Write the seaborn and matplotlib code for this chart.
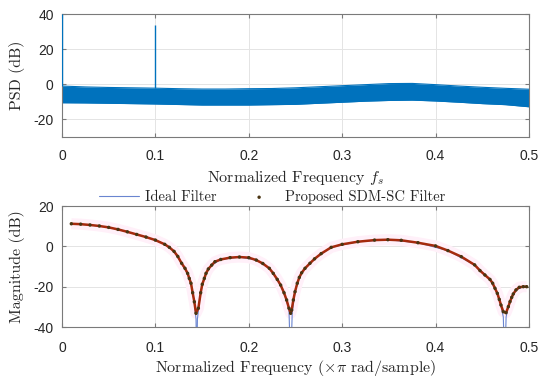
import numpy as np
import pandas as pd
import matplotlib
matplotlib.use("Agg")
import matplotlib.pyplot as plt
import seaborn as sns

# ---- data ----
xticks = [0, 0.1, 0.2, 0.3, 0.4, 0.5]
xtick_labels = ["0", "0.1", "0.2", "0.3", "0.4", "0.5"]

# top panel: noise floor envelope of the PSD
psd_freq = [0.0, 0.025, 0.05, 0.075, 0.1, 0.125, 0.15, 0.175, 0.2, 0.225, 0.25,
            0.275, 0.3, 0.325, 0.35, 0.375, 0.4, 0.425, 0.45, 0.475, 0.5]
psd_upper = [-1.0, -1.5, -1.8, -2.0, -2.2, -2.5, -2.7, -2.7, -2.5, -2.4, -2.0,
             -1.4, -0.8, -0.2, 0.4, 0.5, -0.2, -1.0, -1.7, -2.3, -2.8]
psd_lower = [-10.5, -10.6, -10.8, -11.0, -11.2, -11.5, -11.8, -11.8, -11.8, -11.6, -11.4,
             -10.8, -10.2, -9.6, -9.2, -9.0, -9.5, -10.2, -11.0, -11.6, -12.8]
# tones
tone_freq = [0.0, 0.1]
tone_peak = [40, 34]
psd_yticks = [-20, 0, 20, 40]
psd_ytick_labels = ["-20", "0", "20", "40"]

# bottom panel: proposed SDM-SC filter response
sdm_freq = [0.010, 0.020, 0.030, 0.040, 0.050, 0.060, 0.070, 0.080, 0.090, 0.100,
            0.110, 0.115, 0.120, 0.124, 0.1281, 0.1317, 0.1345, 0.1363, 0.1381, 0.1399,
            0.1417, 0.1435, 0.1460, 0.1485, 0.1502, 0.1524, 0.1542, 0.1567, 0.1603, 0.1638,
            0.170, 0.180, 0.190, 0.200, 0.208, 0.215, 0.222, 0.2262, 0.2305, 0.2341,
            0.2377, 0.2405, 0.2430, 0.2448, 0.2459, 0.2477, 0.2495, 0.2519, 0.2541, 0.2566,
            0.2602, 0.2655, 0.2704, 0.2775, 0.2882, 0.300, 0.3168, 0.3346, 0.3489, 0.3632,
            0.3811, 0.400, 0.4132, 0.4275, 0.4418, 0.4475, 0.4528, 0.4582, 0.4611, 0.4636,
            0.4661, 0.4682, 0.4700, 0.4725, 0.4754, 0.4779, 0.4797, 0.4815, 0.4832, 0.4861,
            0.4896, 0.4939, 0.4975]
sdm_mag = [11.2, 11.0, 10.6, 10.1, 9.4, 8.4, 7.2, 5.9, 4.6, 3.1,
           1.0, -0.5, -2.5, -5.0, -8.4, -10.9, -13.4, -15.9, -18.3, -23.0,
           -27.5, -33.2, -30.7, -23.0, -18.8, -15.9, -13.4, -11.2, -9.3, -7.6,
           -6.5, -5.6, -5.3, -5.6, -6.8, -8.5, -10.9, -13.4, -16.4, -19.2,
           -23.0, -26.6, -30.7, -33.2, -31.6, -26.6, -22.5, -18.3, -15.4, -13.1,
           -10.9, -8.4, -6.2, -3.6, -0.5, 1.0, 2.3, 3.1, 3.3, 3.0,
           1.8, 0.2, -2.1, -5.1, -9.2, -12.0, -14.2, -16.4, -18.3, -20.8,
           -23.3, -26.3, -29.1, -32.4, -32.9, -29.9, -27.4, -25.3, -23.6, -21.6,
           -20.3, -20.0, -20.0]

# bottom panel: ideal filter response (deep nulls)
ideal_freq = [0.010, 0.030, 0.050, 0.070, 0.090, 0.100, 0.110, 0.120, 0.1281, 0.1345,
              0.1381, 0.1399, 0.1417, 0.1435, 0.1442, 0.1450, 0.1470, 0.1502, 0.1542, 0.1603,
              0.170, 0.190, 0.208, 0.222, 0.2305, 0.2377, 0.2430, 0.2448, 0.2465, 0.2495,
              0.2541, 0.2602, 0.2704, 0.2882, 0.3168, 0.3489, 0.3811, 0.4132, 0.4418, 0.4582,
              0.4661, 0.4700, 0.4725, 0.4740, 0.4755, 0.4779, 0.4815, 0.4861, 0.4939, 0.4975]
ideal_mag = [11.2, 10.6, 9.4, 7.2, 4.6, 3.1, 1.0, -2.5, -8.4, -13.4,
             -18.3, -23.0, -28.0, -36.0, -60.0, -36.0, -28.0, -18.8, -13.4, -9.3,
             -6.5, -5.3, -6.8, -10.9, -16.4, -23.0, -31.0, -60.0, -33.0, -22.5,
             -15.4, -10.9, -6.2, -0.5, 2.3, 3.3, 1.8, -2.1, -9.2, -16.4,
             -23.3, -29.5, -35.0, -60.0, -35.0, -29.9, -25.3, -21.6, -20.0, -20.0]
mag_yticks = [-40, -20, 0, 20]
mag_ytick_labels = ["-40", "-20", "0", "20"]

# ---- style ----
sns.set_style("ticks")
plt.rcParams["font.family"] = ["Liberation Sans", "DejaVu Sans"]
plt.rcParams["mathtext.fontset"] = "cm"

spine_col = "#7a7a7a"
text_col = "#262626"
serif = "cmr10"

fig = plt.figure(figsize=(5.5, 3.84), dpi=100)
ax1 = fig.add_axes([0.1127, 0.6432, 0.8491, 0.3203])
ax2 = fig.add_axes([0.1127, 0.1484, 0.8491, 0.3151])


def style_axes(ax, xpad):
    ax.set_xlim(0, 0.5)
    ax.set_xticks(xticks)
    ax.set_xticklabels(xtick_labels)
    ax.grid(True, color="#e4e4e4", lw=0.7)
    ax.set_axisbelow(True)
    for s in ax.spines.values():
        s.set_visible(True)
        s.set_color(spine_col)
        s.set_linewidth(0.8)
    ax.tick_params(direction="in", length=3, top=True, right=True, color=spine_col,
                   labelcolor=text_col, labelsize=10)
    ax.tick_params(axis="x", pad=xpad)
    ax.tick_params(axis="y", pad=6)


# top: PSD
psd = pd.DataFrame({"f": psd_freq, "hi": psd_upper, "lo": psd_lower})
ax1.fill_between(psd["f"], psd["lo"], psd["hi"], color="#0072bd", lw=0, zorder=2)
sns.lineplot(data=psd, x="f", y="hi", ax=ax1, color="#0072bd", lw=0.8, zorder=2)
sns.lineplot(data=psd, x="f", y="lo", ax=ax1, color="#0072bd", lw=0.8, zorder=2)
ax1.vlines(tone_freq, [psd_upper[0], psd_upper[4]], tone_peak, color="#0072bd", lw=1.0, zorder=3)
ax1.set_ylim(-30, 40)
ax1.set_yticks(psd_yticks)
ax1.set_yticklabels(psd_ytick_labels)
style_axes(ax1, 8.5)
ax1.set_xlabel(r"Normalized Frequency $f_s$", fontfamily=serif, fontsize=11.5, color=text_col)
ax1.set_ylabel("PSD (dB)", fontfamily=serif, fontsize=11.5, color=text_col)
ax1.xaxis.set_label_coords(0.5, -0.25)
ax1.yaxis.set_label_coords(-0.08, 0.5)

# bottom: magnitude response
ax2.plot(sdm_freq, sdm_mag, color="#fff0f9", lw=8, zorder=1, solid_capstyle="butt")
sns.lineplot(x=ideal_freq, y=ideal_mag, ax=ax2, color="#6a85d0", lw=0.8, sort=False,
             label="Ideal Filter", zorder=3)
ax2.plot(sdm_freq, sdm_mag, color="#a52a0d", lw=1.8, zorder=4)
sns.scatterplot(x=sdm_freq, y=sdm_mag, ax=ax2, marker="o", s=6, color="#4a3512",
                edgecolor="none", label="Proposed SDM-SC Filter", zorder=5)
ax2.set_ylim(-40, 20)
ax2.set_yticks(mag_yticks)
ax2.set_yticklabels(mag_ytick_labels)
style_axes(ax2, 10)
ax2.set_xlabel(r"Normalized Frequency ($\times\pi$ rad/sample)", fontfamily=serif,
               fontsize=11.5, color=text_col)
ax2.set_ylabel("Magnitude (dB)", fontfamily=serif, fontsize=11.5, color=text_col)
ax2.xaxis.set_label_coords(0.5, -0.255)
ax2.yaxis.set_label_coords(-0.08, 0.5)

ax2.legend(loc="center", bbox_to_anchor=(0.45, 1.075), ncol=2, frameon=False,
           prop={"family": serif, "size": 10.5}, handlelength=2.8, columnspacing=1.5,
           handletextpad=0.4, borderaxespad=0)

fig.savefig("out.png", dpi=100)
